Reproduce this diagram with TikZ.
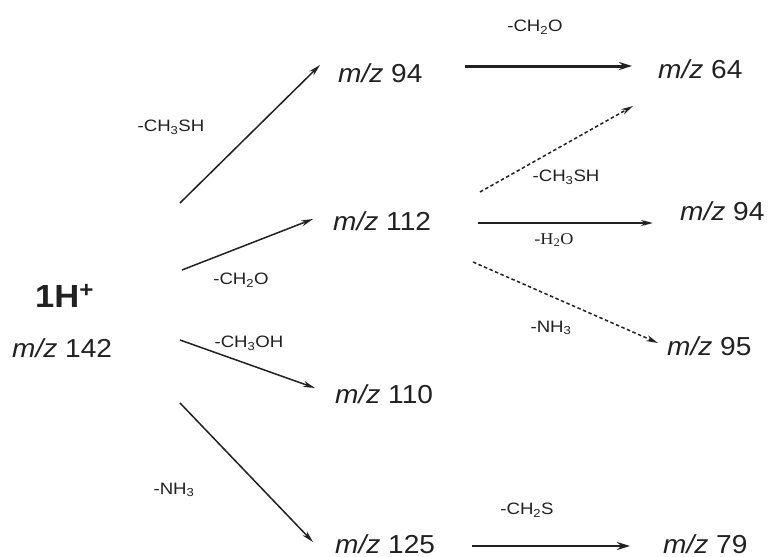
\documentclass[tikz,border=0pt]{standalone}
\usepackage{fontspec}
\setmainfont{Liberation Sans}
\newfontfamily\ionfont[FakeStretch=1.08]{Liberation Sans}
\newfontfamily\lossfont[FakeStretch=1.13]{Liberation Sans}
\newfontfamily\serifH[FakeStretch=1.1]{Liberation Serif}
\usetikzlibrary{arrows.meta}
\definecolor{ink}{rgb}{0.13,0.13,0.13}
\begin{document}
\begin{tikzpicture}[x=1pt,y=-1pt,
  ion/.style={anchor=base west,inner sep=0pt,font=\ionfont\fontsize{26}{30}\selectfont,text=ink},
  loss/.style={inner sep=0pt,font=\lossfont\fontsize{16.5}{19}\selectfont,text=ink},
  rx/.style={draw=ink,line width=1.5pt,-{Stealth[length=12pt,width=6pt]}},
  rxd/.style={rx,dash pattern=on 3.5pt off 2.5pt},
]
\fill[white] (0,0) rectangle (769,557);
\useasboundingbox (0,0) rectangle (769,557);

% ions
\node[anchor=base west,inner sep=0pt,font=\ionfont\fontsize{32}{36}\selectfont\bfseries,text=ink] (h) at (35,307) {1H\textsuperscript{+}};
\node[ion] (i142) at (12,357) {\textit{m/z} 142};
\node[ion] (i94) at (338,82) {\textit{m/z} 94};
\node[ion] (i112) at (333,230) {\textit{m/z} 112};
\node[ion] (i110) at (335,403) {\textit{m/z} 110};
\node[ion] (i125) at (335,553) {\textit{m/z} 125};
\node[ion] (i64) at (658,78) {\textit{m/z} 64};
\node[ion] (i94b) at (680,220) {\textit{m/z} 94};
\node[ion] (i95) at (667,355) {\textit{m/z} 95};
\node[ion] (i79) at (663,553) {\textit{m/z} 79};

% arrow end points
\coordinate (s1) at (180,203); \coordinate (e1) at (320,65);
\coordinate (s2) at (182,270); \coordinate (e2) at (313,219);
\coordinate (s3) at (180,340); \coordinate (e3) at (315,388);
\coordinate (s4) at (180,403); \coordinate (e4) at (313,542);
\coordinate (s5) at (465,66);  \coordinate (e5) at (632,66);
\coordinate (s6) at (480,192); \coordinate (e6) at (633,106);
\coordinate (s7) at (478,223); \coordinate (e7) at (653,223);
\coordinate (s8) at (473,262); \coordinate (e8) at (658,343);
\coordinate (s9) at (472,546); \coordinate (e9) at (630,546);

\draw[rx] (s1) -- (e1);
\draw[rx] (s2) -- (e2);
\draw[rx] (s3) -- (e3);
\draw[rx] (s4) -- (e4);
\draw[rx,line width=3pt,-{Stealth[length=13pt,width=8pt]}] (s5) -- (e5);
\draw[rxd] (s6) -- (e6);
\draw[rx,line width=1.9pt] (s7) -- (e7);
\draw[rxd] (s8) -- (e8);
\draw[rx,line width=2.5pt,-{Stealth[length=13pt,width=8pt]}] (s9) -- (e9);

% losses
\node[loss] (l1) at (171,127) {-CH\textsubscript{3}SH};
\node[loss] (l2) at (241,280) {-CH\textsubscript{2}O};
\node[loss] (l3) at (249,343) {-CH\textsubscript{3}OH};
\node[loss] (l4) at (174,490) {-NH\textsubscript{3}};
\node[loss] (l5) at (535,27) {-CH\textsubscript{2}O};
\node[loss] (l6) at (566,177) {-CH\textsubscript{3}SH};
\node[loss,font=\serifH\fontsize{16.5}{19}\selectfont] (l7) at (554,240) {-H\textsubscript{2}O};
\node[loss] (l8) at (551,328) {-NH\textsubscript{3}};
\node[loss] (l9) at (527,510) {-CH\textsubscript{2}S};
\end{tikzpicture}
\end{document}
